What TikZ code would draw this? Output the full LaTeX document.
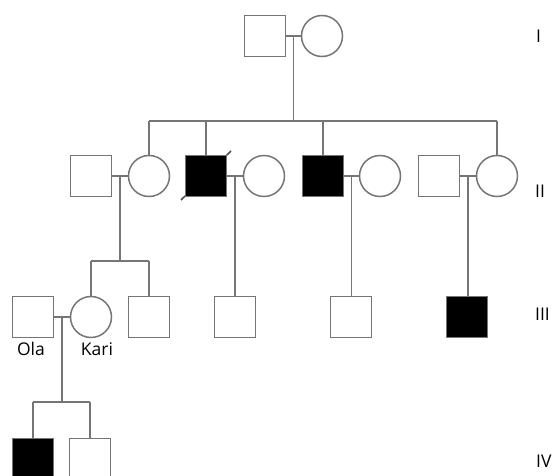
\documentclass[tikz,border=0pt]{standalone}
\usepackage{fontspec}
\setmainfont{Open Sans}
\usetikzlibrary{calc,backgrounds}
\definecolor{linec}{HTML}{757575}
\tikzset{
  person/.style={draw=linec, line width=1.5pt, inner sep=0pt, minimum size=41pt},
  male/.style={person, rectangle},
  female/.style={person, circle},
  affected/.style={fill=black},
  rel/.style={draw=linec, line width=1.5pt},
  lbl/.style={inner sep=0pt, font=\fontsize{17.5}{20}\selectfont},
  gen/.style={lbl, anchor=west},
}
\begin{document}
\begin{tikzpicture}[x=1pt,y=-1pt]
\useasboundingbox (0,0) rectangle (555,476);
\clip (0,0) rectangle (555,476);
% Generation I
\node[male] (Ia) at (265,36) {};
\node[female] (Ib) at (322,36) {};
% Generation II
\node[male] (IIa) at (91,176) {};
\node[female] (IIb) at (149,176) {};
\node[male,affected] (IIc) at (206,176) {};
\node[female] (IId) at (264,176) {};
\node[male,affected] (IIe) at (323,176) {};
\node[female] (IIf) at (380,176) {};
\node[male] (IIg) at (439,176) {};
\node[female] (IIh) at (497,176) {};
% Generation III
\node[male] (Ola) at (33,317) {};
\node[female] (Kari) at (91,317) {};
\node[male] (IIIc) at (149,317) {};
\node[male] (IIId) at (235,317) {};
\node[male] (IIIe) at (351,317) {};
\node[male,affected] (IIIf) at (467,317) {};
% Generation IV
\node[male,affected] (IVa) at (33,459) {};
\node[male] (IVb) at (90,459) {};
% labels
\node[lbl] (tOla) at (31,349) {Ola};
\node[lbl] (tKari) at (97,349) {Kari};
\node[gen] (gI) at (536,36) {I};
\node[gen] (gII) at (535,191) {II};
\node[gen] (gIII) at (535,314) {III};
\node[gen] (gIV) at (536,461) {IV};
% marriage lines and mid points
\draw[rel] (Ia.east) -- (Ib.west);
\coordinate (mI) at ($(Ia.east)!0.5!(Ib.west)$);
\draw[rel] (IIa.east) -- (IIb.west);
\coordinate (mIIa) at ($(IIa.east)!0.5!(IIb.west)$);
\draw[rel] (IIc.east) -- (IId.west);
\coordinate (mIIc) at ($(IIc.east)!0.5!(IId.west)$);
\draw[rel] (IIe.east) -- (IIf.west);
\coordinate (mIIe) at ($(IIe.east)!0.5!(IIf.west)$);
\draw[rel] (IIg.east) -- (IIh.west);
\coordinate (mIIg) at ($(IIg.east)!0.5!(IIh.west)$);
\draw[rel] (Ola.east) -- (Kari.west);
\coordinate (mIII) at ($(Ola.east)!0.5!(Kari.west)$);
% sibship I -> II
\coordinate (sI) at (0,121);
\draw[rel] (mI) -- (mI |- sI);
\draw[rel] (IIb.north |- sI) -- (IIh.north |- sI);
\draw[rel] (IIb.north |- sI) -- (IIb.north);
\draw[rel] (IIc.north |- sI) -- (IIc.north);
\draw[rel] (IIe.north |- sI) -- (IIe.north);
\draw[rel] (IIh.north |- sI) -- (IIh.north);
% sibship IIa -> III
\coordinate (sII) at (0,261);
\draw[rel] (mIIa) -- (mIIa |- sII);
\draw[rel] (Kari.north |- sII) -- (IIIc.north |- sII);
\draw[rel] (Kari.north |- sII) -- (Kari.north);
\draw[rel] (IIIc.north |- sII) -- (IIIc.north);
% single children
\draw[rel] (mIIc) -- (mIIc -| IIId.north) -- (IIId.north);
\draw[rel] (mIIe) -- (mIIe |- IIIe.north);
\draw[rel] (mIIg) -- (mIIg |- IIIf.north);
% sibship III -> IV
\coordinate (sIII) at (0,402);
\draw[rel] (mIII) -- (mIII |- sIII);
\draw[rel] (IVa.north |- sIII) -- (IVb.north |- sIII);
\draw[rel] (IVa.north |- sIII) -- (IVa.north);
\draw[rel] (IVb.north |- sIII) -- (IVb.north);
% deceased mark (behind the filled square)
\begin{scope}[on background layer]
\draw[rel, draw=black!70] ($(IIc.center)+(-25,24)$) -- ($(IIc.center)+(25,-25)$);
\end{scope}
\end{tikzpicture}
\end{document}
